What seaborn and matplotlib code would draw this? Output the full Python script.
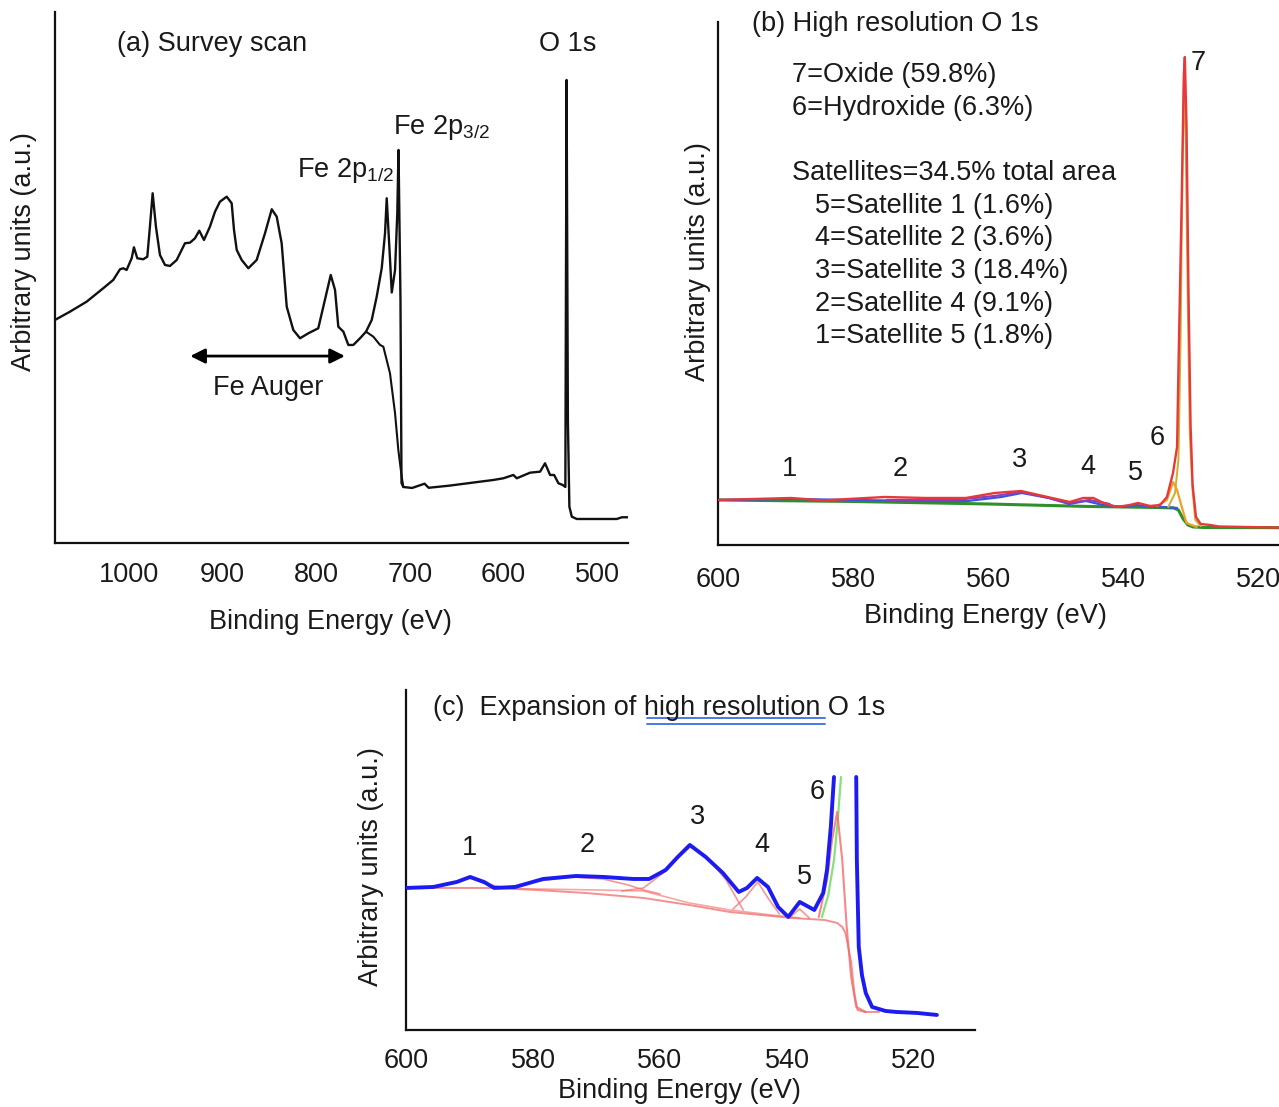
import numpy as np
import pandas as pd
import matplotlib
matplotlib.use("Agg")
import matplotlib.pyplot as plt
from matplotlib.ticker import MultipleLocator
import seaborn as sns

sns.set_style("white")
plt.rcParams['font.family'] = ['Liberation Sans', 'DejaVu Sans']
plt.rcParams['mathtext.fontset'] = 'custom'
plt.rcParams['mathtext.rm'] = 'Liberation Sans'
plt.rcParams['mathtext.default'] = 'regular'

# ---------------- Panel (a) survey scan ----------------
a_energy = [1079.1, 1063.0, 1045.2, 1027.5, 1016.8, 1009.6, 1006.1, 1002.5, 997.1, 994.7,
            991.1, 984.7, 980.4, 977.6, 974.7, 971.2, 966.9, 961.5, 956.2, 949.0,
            940.2, 934.8, 929.5, 924.9, 919.9, 913.5, 908.1, 902.8, 895.6, 890.3,
            887.8, 884.9, 879.6, 872.5, 863.6, 854.7, 847.5, 842.2, 836.9, 831.5,
            824.5, 817.3, 808.4, 797.8, 792.4, 784.5, 779.9, 776.4, 771.0, 765.7,
            760.4, 753.2, 746.8, 740.7, 735.4, 730.0, 726.5, 724.7, 721.9, 719.3,
            715.8, 713.4, 712.1, 710.0, 708.9, 707.0, 697.6, 684.3, 679.9, 658.1,
            625.0, 610.8, 600.1, 589.4, 585.8, 571.6, 560.9, 555.6, 550.2, 545.9,
            541.3, 536.7, 533.9, 532.6, 531.2, 529.6, 527.0, 521.7, 479.0, 473.6,
            466.9]
a_counts = [223, 231.3, 241.3, 254.7, 263, 273.7, 274.7, 273, 284.7, 295.7,
            284.7, 283.7, 286.3, 316.3, 349.7, 316.3, 288, 278, 277, 283,
            299.7, 300.3, 304.7, 312.3, 303, 316.3, 331.3, 341.3, 346.3, 339.7,
            313, 293, 283, 274.7, 283, 309.7, 333.7, 326.3, 299.7, 236.3,
            213, 204.7, 209.7, 214.7, 236.3, 268, 253, 216.3, 211.3, 198,
            198, 204.7, 211.3, 223, 246.3, 275, 309.7, 344.7, 296.3, 250.5,
            273, 329.7, 393, 243, 60, 56, 55, 59.3, 55.2, 57.3,
            61.3, 63, 64.7, 68, 64.7, 70.3, 71.3, 79.7, 68, 68,
            59.7, 58, 56, 463, 123, 36.3, 26.3, 24, 24, 25.7,
            25.7]
a_step_energy = [746.8, 739.0, 731.8, 728.3, 721.2, 715.8, 712.3, 708.7, 707.0]
a_step_counts = [211.3, 206.3, 198, 196.3, 169.7, 129.7, 93, 66.3, 56.3]
a_ticks_major = [1000, 900, 800, 700, 600, 500]

# ---------------- Panel (b) high resolution O 1s ----------------
b_env_energy = [600, 589.2, 584.4, 575.3, 569.3, 563.3, 559, 555.1, 551.2, 547.9,
                545.9, 544.4, 542.9, 540.9, 539, 537.8, 536, 534.5, 533.5, 532.6,
                532.0, 531.8, 531.3, 531.0, 530.85, 530.6, 530.3, 530.0, 529.7, 529.2,
                528.5, 527.1, 525.8, 516.5]
b_env_counts = [45, 47, 44.6, 48, 47, 47, 52, 54, 48, 43,
                47, 47, 42, 38, 40, 42, 39, 40, 48, 72,
                98, 175, 350, 470, 488, 420, 250, 120, 60, 28,
                21, 20, 18.5, 17.3]
b_bkg_energy = [600, 580, 560, 545, 535, 532.5, 531.8, 531.1, 530.4, 529.6, 528, 516.5]
b_bkg_counts = [45, 43.5, 41, 38.5, 37.5, 37, 35, 26, 20, 18, 17.5, 17.3]
b_oh_energy = [535, 533.5, 533.0, 532.6, 532.0, 531.3, 530.6, 529.1]
b_oh_counts = [39, 45, 55, 63, 55, 38, 22, 18]
b_ox_energy = [533.3, 532.3, 531.8, 531.5, 531.2, 530.95, 530.7, 530.4, 530.1, 529.7, 529.3, 528.5]
b_ox_counts = [38, 52, 85, 200, 380, 470, 400, 240, 110, 55, 25, 19]
b_sat_energy = [600, 589, 580, 570, 563, 558, 555, 551, 548, 545.5, 543, 540, 538, 536, 534, 532]
b_sat_counts = [45, 46, 45, 44, 44, 48, 52, 47, 41, 44, 40, 38, 40, 38, 38, 37]
b_pur_energy = [575, 565, 559, 555, 551, 548, 545, 542]
b_pur_counts = [45, 45, 49, 53, 47, 42, 45, 41]
b_legend_lines = ["7=Oxide (59.8%)", "6=Hydroxide (6.3%)"]
b_sat_lines = ["5=Satellite 1 (1.6%)", "4=Satellite 2 (3.6%)", "3=Satellite 3 (18.4%)",
               "2=Satellite 4 (9.1%)", "1=Satellite 5 (1.8%)"]

# ---------------- Panel (c) expansion ----------------
c_env1_energy = [600, 595.7, 592, 589.9, 587.7, 586.1, 582.8, 578.4, 573.2, 568.8,
                 564.2, 561.7, 559.1, 557.2, 555.3, 552.8, 550.1, 547.6, 546.3, 544.7,
                 543, 541.4, 539.8, 538, 535.7, 534.3, 533.7, 533.1, 532.6]
c_env1_counts = [142, 143, 148, 153, 148, 142, 143, 151, 154, 153,
                 151, 151, 160, 173, 185, 173, 157, 138, 142, 152,
                 143, 123, 113, 128, 120, 137, 160, 203, 253]
c_env2_energy = [529.1, 529.0, 528.7, 528.2, 527.6, 526.6, 524.5, 522.8, 519.5, 516.4]
c_env2_counts = [253, 170, 83, 55, 37, 23, 19, 18, 17, 15]
c_bkg_energy = [600, 586, 579.5, 571.7, 562.6, 555.4, 549, 542.5, 539.3, 534.1,
                532.1, 531.3, 530.8, 529.9, 529.4, 528.9, 527.8, 525.5]
c_bkg_counts = [142, 142, 140, 137, 132, 125, 118, 114, 112, 110,
                107, 103, 97, 68, 37, 20, 18, 18]
c_bk2_energy = [586, 579.5, 570, 562.6, 555.4, 549, 542.5, 538]
c_bk2_counts = [142, 141, 140, 139, 127, 120, 115, 112]
c_s1_energy = [597, 593, 590, 587.5, 584]
c_s1_counts = [142, 146, 152, 146, 142]
c_s2_energy = [584, 579, 574, 569, 565, 562.6, 560]
c_s2_counts = [142, 149, 153, 151, 145, 140, 136]
c_s3_energy = [566, 562.6, 559.5, 557.2, 555.2, 552.2, 549.6, 546.9]
c_s3_counts = [139, 142, 157, 172, 183, 170, 150, 120]
c_s4_energy = [548.5, 546.5, 544.6, 543, 541.2]
c_s4_counts = [121, 133, 148, 132, 116]
c_s5_energy = [539.5, 538, 536.5]
c_s5_counts = [113, 121, 112]
c_oh_energy = [535.0, 533.7, 532.9, 532.1, 531.3, 530.6, 529.9, 529.1, 527.6]
c_oh_counts = [113, 150, 190, 218, 170, 103, 53, 23, 18]
c_ox_energy = [534.5, 533.5, 532.6, 532.0, 531.5]
c_ox_counts = [113, 135, 170, 210, 253]
xticks_hr = [600, 580, 560, 540, 520]

FS = 19.5
TXT = '#1a1a1a'


def line(ax, x, y, color, lw, alpha=1.0, z=2):
    df = pd.DataFrame({'E': x, 'I': y})
    sns.lineplot(data=df, x='E', y='I', sort=False, estimator=None, ax=ax,
                 color=color, linewidth=lw, alpha=alpha, legend=False, zorder=z)


def style_axes(ax, tickdir, ticklen, pad):
    for s in ['top', 'right']:
        ax.spines[s].set_visible(False)
    for s in ['left', 'bottom']:
        ax.spines[s].set_color('#111111')
        ax.spines[s].set_linewidth(1.6)
    ax.set_yticks([])
    ax.tick_params(axis='x', which='both', direction=tickdir, color='#333333',
                   width=1.2, labelsize=FS, labelcolor=TXT, pad=pad)
    ax.tick_params(axis='x', which='major', length=ticklen)
    ax.tick_params(axis='x', which='minor', length=ticklen)


fig = plt.figure(figsize=(12.79, 11.07), dpi=100)

# ---- (a)
axa = fig.add_axes([0.0430, 0.5095, 0.448, 0.4797])
line(axa, a_energy, a_counts, '#111111', 1.7)
line(axa, a_step_energy, a_step_counts, '#111111', 1.5)
axa.set_xlim(1079, 467)
axa.set_ylim(0, 531)
axa.set_xticks(a_ticks_major)
axa.xaxis.set_minor_locator(MultipleLocator(50))
style_axes(axa, 'in', 7, 14)
axa.tick_params(axis='x', which='minor', length=5)
axa.set_xlabel('Binding Energy (eV)', fontsize=FS, color=TXT)
axa.set_ylabel('Arbitrary units (a.u.)', fontsize=FS, color=TXT)
axa.xaxis.set_label_coords(0.48, -0.125)
axa.yaxis.set_label_coords(-0.031, 0.548)
axa.text(0.108, 0.94, '(a) Survey scan', transform=axa.transAxes, fontsize=FS, color=TXT, va='center')
axa.text(0.894, 0.94, 'O 1s', transform=axa.transAxes, fontsize=FS, color=TXT, va='center', ha='center')
axa.text(0.59, 0.783, 'Fe 2p$_{3/2}$', transform=axa.transAxes, fontsize=FS, color=TXT, va='center')
axa.text(0.422, 0.702, 'Fe 2p$_{1/2}$', transform=axa.transAxes, fontsize=FS, color=TXT, va='center')
axa.text(0.372, 0.292, 'Fe Auger', transform=axa.transAxes, fontsize=FS, color=TXT, va='center', ha='center')
axa.annotate('', xy=(0.236, 0.352), xytext=(0.506, 0.352), xycoords='axes fraction',
             arrowprops=dict(arrowstyle='<|-|>', color='black', lw=2, mutation_scale=22,
                             shrinkA=0, shrinkB=0))

# ---- (b)
axb = fig.add_axes([0.5614, 0.5077, 0.4386, 0.4724])
line(axb, b_bkg_energy, b_bkg_counts, '#2f8f2a', 2.2, z=2)
line(axb, b_sat_energy, b_sat_counts, '#3b55e0', 1.6, z=2)
line(axb, b_pur_energy, b_pur_counts, '#8a3fc0', 1.6, z=2)
line(axb, b_ox_energy, b_ox_counts, '#c9b43a', 1.5, z=2)
line(axb, b_oh_energy, b_oh_counts, '#f0a028', 1.6, z=3)
line(axb, b_env_energy, b_env_counts, '#e8383a', 1.7, z=4)
axb.set_xlim(600, 516.9)
axb.set_ylim(0, 523)
axb.set_xticks(xticks_hr)
axb.xaxis.set_minor_locator(MultipleLocator(5))
style_axes(axb, 'out', 6.5, 9)
axb.set_xlabel('Binding Energy (eV)', fontsize=FS, color=TXT)
axb.set_ylabel('Arbitrary units (a.u.)', fontsize=FS, color=TXT)
axb.xaxis.set_label_coords(0.476, -0.11)
axb.yaxis.set_label_coords(-0.013, 0.541)
axb.text(0.061, 0.996, '(b) High resolution O 1s', transform=axb.transAxes, fontsize=FS, color=TXT, va='center')
for i, s in enumerate(b_legend_lines):
    axb.text(0.131, 0.898 - i * 0.062, s, transform=axb.transAxes, fontsize=FS, color=TXT, va='center')
axb.text(0.131, 0.711, 'Satellites=34.5% total area', transform=axb.transAxes, fontsize=FS, color=TXT, va='center')
for i, s in enumerate(b_sat_lines):
    axb.text(0.173, 0.649 - i * 0.0625, s, transform=axb.transAxes, fontsize=FS, color=TXT, va='center')
b_peak_labels = [('7', 0.856, 0.922), ('6', 0.783, 0.205), ('1', 0.128, 0.146), ('2', 0.324, 0.146),
                 ('3', 0.537, 0.162), ('4', 0.66, 0.15), ('5', 0.745, 0.137)]
for s, x, y in b_peak_labels:
    axb.text(x, y, s, transform=axb.transAxes, fontsize=FS, color=TXT, va='center', ha='center')

# ---- (c)
axc = fig.add_axes([0.3174, 0.0696, 0.4449, 0.3071])
salmon = '#f36a6a'
line(axc, c_bkg_energy, c_bkg_counts, salmon, 1.4, alpha=0.75)
line(axc, c_bk2_energy, c_bk2_counts, salmon, 1.2, alpha=0.6)
for ex, cy in [(c_s1_energy, c_s1_counts), (c_s2_energy, c_s2_counts), (c_s3_energy, c_s3_counts),
               (c_s4_energy, c_s4_counts), (c_s5_energy, c_s5_counts)]:
    line(axc, ex, cy, salmon, 1.2, alpha=0.7)
line(axc, c_ox_energy, c_ox_counts, '#86e27a', 1.6)
line(axc, c_oh_energy, c_oh_counts, salmon, 1.5, alpha=0.8)
line(axc, c_env1_energy, c_env1_counts, '#1c1cf2', 2.8, z=4)
line(axc, c_env2_energy, c_env2_counts, '#1c1cf2', 2.8, z=4)
axc.set_xlim(600, 510.4)
axc.set_ylim(0, 340)
axc.set_xticks(xticks_hr)
axc.xaxis.set_minor_locator(MultipleLocator(5))
style_axes(axc, 'out', 6, 7)
axc.set_xlabel('Binding Energy (eV)', fontsize=FS, color=TXT)
axc.set_ylabel('Arbitrary units (a.u.)', fontsize=FS, color=TXT)
axc.xaxis.set_label_coords(0.48, -0.14)
axc.yaxis.set_label_coords(-0.039, 0.48)
axc.text(0.047, 0.947, '(c)  Expansion of high resolution O 1s', transform=axc.transAxes,
         fontsize=FS, color=TXT, va='center')
axc.plot([0.423, 0.737], [0.917, 0.917], transform=axc.transAxes, color='#4a78e6', lw=1.4)
axc.plot([0.423, 0.737], [0.900, 0.900], transform=axc.transAxes, color='#4a78e6', lw=1.4)
c_peak_labels = [('1', 0.112, 0.534), ('2', 0.318, 0.544), ('3', 0.513, 0.627),
                 ('4', 0.625, 0.544), ('5', 0.701, 0.451), ('6', 0.723, 0.701)]
for s, x, y in c_peak_labels:
    axc.text(x, y, s, transform=axc.transAxes, fontsize=FS, color=TXT, va='center', ha='center')

fig.savefig('out.png', dpi=100)
